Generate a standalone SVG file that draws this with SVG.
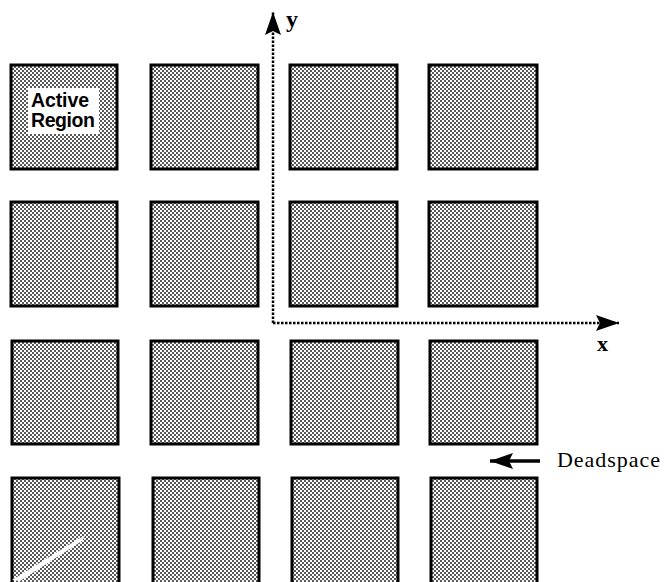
<svg xmlns="http://www.w3.org/2000/svg" width="664" height="582" viewBox="0 0 664 582">
<style>
.cell{fill:url(#dots);stroke:#000;stroke-width:3}
.axis{fill:none;stroke:#000;stroke-width:2.5;stroke-dasharray:2.5 1.5}
.lbl{font-family:"Liberation Serif",serif;font-weight:bold;fill:#000}
.ds{font-family:"Liberation Serif",serif;font-weight:normal;fill:#000}
.ar{font-family:"Liberation Sans",sans-serif;font-weight:bold;font-size:19.5px;fill:#000}
</style>
<defs>
<pattern id="dots" patternUnits="userSpaceOnUse" width="4" height="4">
<rect width="4" height="4" fill="#fff"/>
<circle cx="1" cy="1" r="0.95" fill="#111"/>
<circle cx="3" cy="3" r="0.95" fill="#111"/>
</pattern>
<marker id="ah" markerUnits="userSpaceOnUse" markerWidth="26" markerHeight="18" refX="23" refY="9" orient="auto" overflow="visible">
<path d="M0,1 L23,9 L0,17 L4,9 Z" fill="#000"/>
</marker>
</defs>
<rect width="664" height="582" fill="#fff"/>
<g id="r1c1"><rect class="cell" x="11" y="65" width="106" height="104"/>
<rect x="28" y="88" width="71" height="46" fill="#fff"/>
<text class="ar" x="31" y="107" textLength="58">Active</text>
<text class="ar" x="31" y="127" textLength="64">Region</text></g>
<g id="r1c2"><rect class="cell" x="151" y="65" width="107" height="104"/></g>
<g id="r1c3"><rect class="cell" x="290" y="65" width="107" height="104"/></g>
<g id="r1c4"><rect class="cell" x="429" y="65" width="108" height="104"/></g>
<g id="r2c1"><rect class="cell" x="11" y="202" width="106" height="104"/></g>
<g id="r2c2"><rect class="cell" x="151" y="202" width="107" height="104"/></g>
<g id="r2c3"><rect class="cell" x="290" y="202" width="107" height="104"/></g>
<g id="r2c4"><rect class="cell" x="429" y="202" width="108" height="104"/></g>
<g id="r3c1"><rect class="cell" x="12" y="341" width="106" height="103"/></g>
<g id="r3c2"><rect class="cell" x="151" y="341" width="107" height="103"/></g>
<g id="r3c3"><rect class="cell" x="291" y="341" width="107" height="103"/></g>
<g id="r3c4"><rect class="cell" x="430" y="341" width="107" height="103"/></g>
<g id="r4c1"><rect class="cell" x="12" y="478" width="107" height="110"/>
<path d="M12,580 L80,538 L85,536 L82,541 L20,581 Z" fill="#fff"/></g>
<g id="r4c2"><rect class="cell" x="153" y="478" width="106" height="110"/></g>
<g id="r4c3"><rect class="cell" x="292" y="478" width="106" height="110"/></g>
<g id="r4c4"><rect class="cell" x="431" y="478" width="106" height="110"/></g>
<g id="connectors">
<path class="axis" d="M273,323 L273,12" marker-end="url(#ah)"/>
<path class="axis" d="M273,323 L619,323" marker-end="url(#ah)"/>
<path d="M540,461 L490,461" stroke="#000" stroke-width="3.5" fill="none" marker-end="url(#ah)"/>
</g>
<g id="labels">
<text class="lbl" x="286" y="27" font-size="24">y</text>
<text class="lbl" x="597" y="351" font-size="22">x</text>
<text class="ds" x="557" y="467" font-size="22" textLength="103">Deadspace</text>
</g>
</svg>
